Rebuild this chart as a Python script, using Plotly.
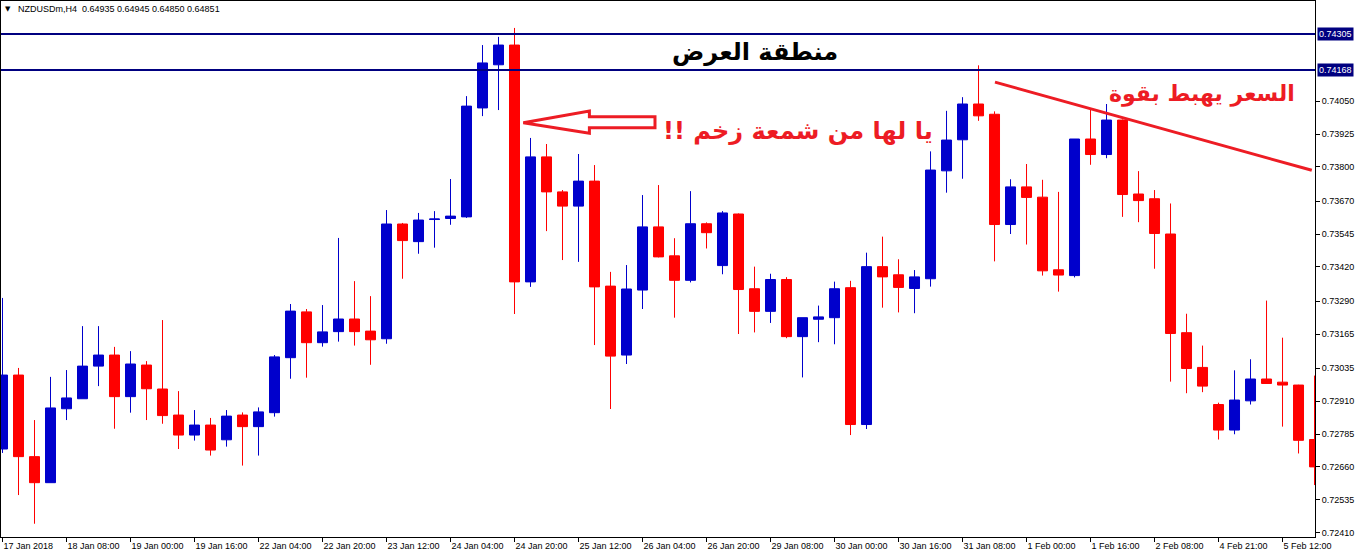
import plotly.graph_objects as go

# ---------------- data ----------------
bar_index = list(range(83))

opens = [0.72728, 0.73009, 0.72699, 0.72600, 0.72881, 0.72919, 0.73043, 0.73085, 0.72927, 0.73047,
         0.72956, 0.72857, 0.72781, 0.72819, 0.72763, 0.72857, 0.72813, 0.72866, 0.73075, 0.73249,
         0.73132, 0.73174, 0.73222, 0.73176, 0.73147, 0.73583, 0.73516, 0.73600, 0.73604, 0.73610,
         0.74024, 0.74188, 0.74263, 0.73363, 0.73838, 0.73705, 0.73651, 0.73746, 0.73347, 0.73085,
         0.73332, 0.73572, 0.73462, 0.73369, 0.73584, 0.73425, 0.73621, 0.73337, 0.73251, 0.73372,
         0.73155, 0.73221, 0.73227, 0.73341, 0.72821, 0.73421, 0.73390, 0.73338, 0.73375, 0.73785,
         0.73903, 0.74039, 0.74000, 0.73581, 0.73724, 0.73685, 0.73409, 0.73387, 0.73906, 0.73847,
         0.73978, 0.73697, 0.73679, 0.73545, 0.73170, 0.73038, 0.72897, 0.72800, 0.72911, 0.72994,
         0.72982, 0.72971, 0.72764]

highs = [0.73302, 0.73036, 0.72838, 0.73002, 0.73028, 0.73195, 0.73195, 0.73116, 0.73100, 0.73062,
         0.73218, 0.72948, 0.72876, 0.72846, 0.72876, 0.72867, 0.72886, 0.73085, 0.73279, 0.73260,
         0.73275, 0.73530, 0.73366, 0.73309, 0.73636, 0.73587, 0.73625, 0.73632, 0.73754, 0.74069,
         0.74263, 0.74294, 0.74328, 0.73910, 0.73887, 0.73712, 0.73849, 0.73807, 0.73401, 0.73427,
         0.73693, 0.73731, 0.73529, 0.73708, 0.73589, 0.73632, 0.73623, 0.73421, 0.73394, 0.73381,
         0.73227, 0.73273, 0.73364, 0.73367, 0.73474, 0.73535, 0.73449, 0.73408, 0.73859, 0.74013,
         0.74065, 0.74186, 0.74011, 0.73753, 0.73811, 0.73751, 0.73705, 0.73906, 0.74019, 0.74039,
         0.73980, 0.73784, 0.73712, 0.73661, 0.73242, 0.73121, 0.72904, 0.73027, 0.73069, 0.73292,
         0.73151, 0.72972, 0.73007]

lows = [0.72713, 0.72553, 0.72444, 0.72600, 0.72838, 0.72919, 0.72967, 0.72805, 0.72866, 0.72838,
        0.72824, 0.72728, 0.72760, 0.72703, 0.72737, 0.72665, 0.72703, 0.72851, 0.72995, 0.72999,
        0.73117, 0.73136, 0.73121, 0.73048, 0.73128, 0.73375, 0.73470, 0.73493, 0.73580, 0.73606,
        0.73993, 0.74016, 0.73241, 0.73344, 0.73556, 0.73446, 0.73439, 0.73123, 0.72880, 0.73051,
        0.73260, 0.73456, 0.73227, 0.73361, 0.73490, 0.73392, 0.73165, 0.73171, 0.73207, 0.73149,
        0.73000, 0.73134, 0.73126, 0.72781, 0.72804, 0.73265, 0.73247, 0.73244, 0.73345, 0.73702,
        0.73755, 0.73975, 0.73441, 0.73545, 0.73505, 0.73387, 0.73326, 0.73380, 0.73808, 0.73833,
        0.73610, 0.73590, 0.73413, 0.72984, 0.72940, 0.72944, 0.72764, 0.72784, 0.72897, 0.72976,
        0.72813, 0.72711, 0.72591]

closes = [0.73009, 0.72699, 0.72600, 0.72884, 0.72922, 0.73043, 0.73085, 0.72927, 0.73051, 0.72957,
          0.72855, 0.72781, 0.72819, 0.72724, 0.72853, 0.72813, 0.72869, 0.73078, 0.73252, 0.73132,
          0.73173, 0.73222, 0.73174, 0.73143, 0.73583, 0.73520, 0.73598, 0.73602, 0.73613, 0.74031,
          0.74195, 0.74263, 0.73363, 0.73838, 0.73705, 0.73651, 0.73746, 0.73344, 0.73081, 0.73336,
          0.73572, 0.73458, 0.73369, 0.73584, 0.73550, 0.73625, 0.73334, 0.73251, 0.73372, 0.73155,
          0.73227, 0.73230, 0.73337, 0.72821, 0.73421, 0.73382, 0.73342, 0.73382, 0.73788, 0.73902,
          0.74039, 0.73994, 0.73581, 0.73724, 0.73684, 0.73405, 0.73389, 0.73906, 0.73847, 0.73978,
          0.73695, 0.73672, 0.73547, 0.73167, 0.73034, 0.72967, 0.72800, 0.72914, 0.72994, 0.72977,
          0.72971, 0.72761, 0.72660]

time_tick_positions = list(range(0, 81, 4))
time_tick_labels = ["17 Jan 2018", "18 Jan 08:00", "19 Jan 00:00", "19 Jan 16:00", "22 Jan 04:00",
                    "22 Jan 20:00", "23 Jan 12:00", "24 Jan 04:00", "24 Jan 20:00", "25 Jan 12:00",
                    "26 Jan 04:00", "26 Jan 20:00", "29 Jan 08:00", "30 Jan 00:00", "30 Jan 16:00",
                    "31 Jan 08:00", "1 Feb 00:00", "1 Feb 16:00", "2 Feb 08:00", "4 Feb 21:00",
                    "5 Feb 12:00"]

price_ticks = [0.74050, 0.73925, 0.73800, 0.73670, 0.73545, 0.73420, 0.73290,
               0.73165, 0.73035, 0.72910, 0.72785, 0.72660, 0.72535, 0.72410]

zone_levels = [0.74305, 0.74168]

header_text = "NZDUSDm,H4  0.64935 0.64945 0.64850 0.64851"

# ---------------- styling ----------------
BLUE = "#0000CC"
RED = "#FF0000"
NAVY = "#000080"
MARK_RED = "#ED1C24"
AX_FONT = dict(family="Liberation Sans, Arial, sans-serif", size=9, color="black")
AR_FONT = "DejaVu Sans, sans-serif"

fig = go.Figure(go.Candlestick(
    x=bar_index, open=opens, high=highs, low=lows, close=closes,
    increasing=dict(line=dict(color=BLUE, width=1), fillcolor=BLUE),
    decreasing=dict(line=dict(color=RED, width=1), fillcolor=RED),
    whiskerwidth=0, hoverinfo="skip", showlegend=False,
))

fig.update_layout(
    width=1357, height=552,
    margin=dict(l=1, r=42, t=1, b=15, pad=0),
    paper_bgcolor="white", plot_bgcolor="white",
    showlegend=False,
    boxgap=0.375, boxgroupgap=0,
)

fig.update_xaxes(
    range=[-0.094, 82.03], rangeslider_visible=False,
    tickmode="array", tickvals=time_tick_positions, ticktext=time_tick_labels,
    ticks="outside", ticklen=4, tickcolor="black", tickwidth=1,
    ticklabelposition="outside right",
    showline=True, linecolor="black", linewidth=1, mirror=True,
    showgrid=False, zeroline=False, tickfont=AX_FONT,
)

fig.update_yaxes(
    side="right", range=[0.723936, 0.744304],
    tickmode="array", tickvals=price_ticks, ticktext=[f"{v:.5f}" for v in price_ticks],
    ticks="outside", ticklen=4, tickcolor="black", tickwidth=1,
    showline=True, linecolor="black", linewidth=1, mirror=True,
    showgrid=False, zeroline=False, tickfont=AX_FONT,
)

# supply-zone horizontal lines with price tags
for lvl in zone_levels:
    fig.add_shape(type="line", xref="paper", x0=0, x1=1, yref="y", y0=lvl, y1=lvl,
                  line=dict(color=NAVY, width=2))
    fig.add_annotation(xref="paper", x=1, xanchor="left", xshift=2, yref="y", y=lvl,
                       yanchor="middle", text=f"{lvl:.5f}", showarrow=False,
                       font=dict(family=AX_FONT["family"], size=9, color="white"),
                       bgcolor=NAVY, borderpad=1)

# header
fig.add_annotation(xref="paper", x=0, xshift=7, xanchor="center", yref="paper", y=1,
                   yshift=-8, yanchor="middle", text="▼", showarrow=False,
                   font=dict(family="DejaVu Sans", size=7, color="black"))
fig.add_annotation(xref="paper", x=0, xshift=15, xanchor="left", yref="paper", y=1,
                   yshift=-8, yanchor="middle", text=header_text, showarrow=False,
                   font=AX_FONT)

# Arabic labels
fig.add_annotation(x=47.03, y=0.74236, text="<b>منطقة العرض</b>", showarrow=False,
                   font=dict(family=AR_FONT, size=24, color="black"))
fig.add_annotation(x=49.69, y=0.73936, text="<b>!! يا لها من شمعة زخم</b>", showarrow=False,
                   font=dict(family=AR_FONT, size=24, color=MARK_RED))
fig.add_annotation(x=74.97, y=0.74077, text="<b>السعر يهبط بقوة</b>", showarrow=False,
                   font=dict(family=AR_FONT, size=22, color=MARK_RED))

# hollow arrow pointing at the momentum candle
arrow_path = ("M 32.55,0.73968 L 36.68,0.74012 L 36.68,0.73991 L 40.78,0.73991 "
              "L 40.78,0.73949 L 36.68,0.73949 L 36.68,0.73928 Z")
fig.add_shape(type="path", xref="x", yref="y", path=arrow_path,
              line=dict(color=MARK_RED, width=3), fillcolor="rgba(0,0,0,0)")

# falling trend line
fig.add_shape(type="line", xref="x", yref="y", x0=62.03, y0=0.74122, x1=81.83, y1=0.73787,
              line=dict(color=MARK_RED, width=3))

fig.write_html("out.html", config={"displayModeBar": False},
               post_script="document.body.style.margin='0px';")
